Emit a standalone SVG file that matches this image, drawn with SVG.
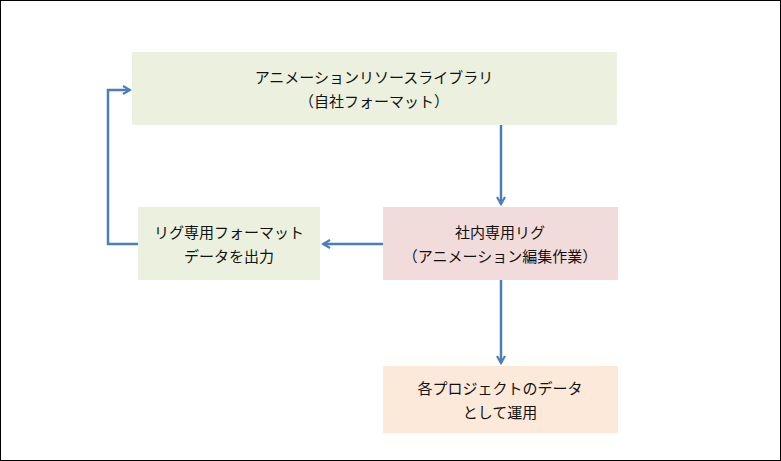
<svg xmlns="http://www.w3.org/2000/svg" width="781" height="461" viewBox="0 0 781 461">
<style>
text{font-family:"Noto Sans CJK JP","Noto Sans CJK SC",sans-serif;font-size:15px;fill:#111;text-anchor:middle}
.c{stroke:#4a7ebb;stroke-width:2.5;fill:none;marker-end:url(#a)}
</style>
<defs><marker id="a" markerWidth="10" markerHeight="10" refX="8" refY="5" orient="auto" markerUnits="userSpaceOnUse"><path d="M1,1 L8,5 L1,9" fill="none" stroke="#4a7ebb" stroke-width="2.2"/></marker></defs>
<rect x="0.5" y="0.5" width="780" height="460" fill="#fff" stroke="#000"/>
<g id="lib"><rect x="132" y="52" width="485" height="73" fill="#ebf1de"/><text x="374" y="83">アニメーションリソースライブラリ</text><text x="374" y="107">（自社フォーマット）</text></g>
<g id="rig"><rect x="383" y="207" width="235" height="73" fill="#f2dcdb"/><text x="500" y="238">社内専用リグ</text><text x="500" y="262">（アニメーション編集作業）</text></g>
<g id="out"><rect x="138" y="207" width="182" height="73" fill="#ebf1de"/><text x="229" y="238">リグ専用フォーマット</text><text x="229" y="262">データを出力</text></g>
<g id="proj"><rect x="383" y="366" width="235" height="67" fill="#fde9d9"/><text x="500" y="394">各プロジェクトのデータ</text><text x="500" y="418">として運用</text></g>
<g id="connectors">
<path class="c" d="M501,125 V204"/>
<path class="c" d="M383,244 H323"/>
<path class="c" d="M138,244 H108 V90 H130"/>
<path class="c" d="M501,280 V363"/>
</g>
</svg>
